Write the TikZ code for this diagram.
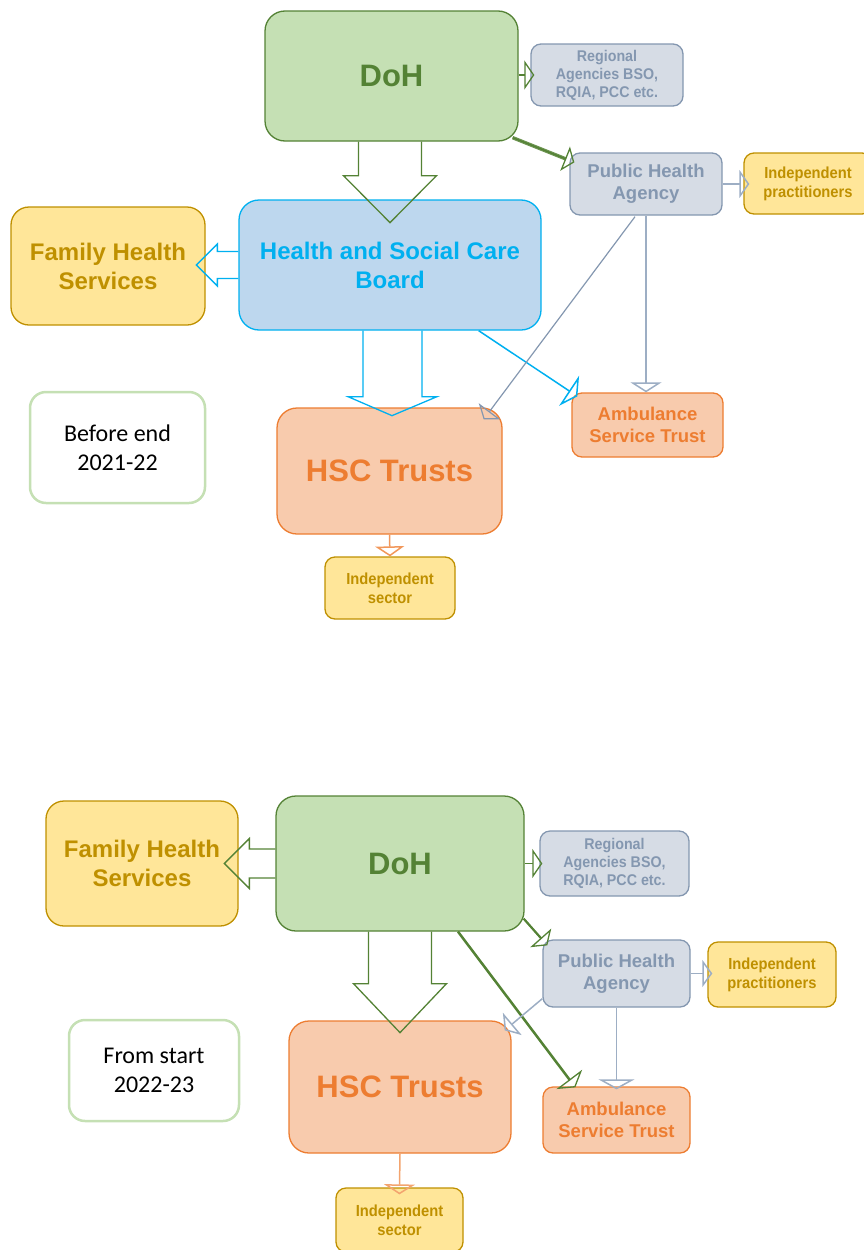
\documentclass[tikz,border=0pt]{standalone}
\usepackage{fontspec}
\setmainfont{Liberation Sans}
\newfontfamily\narrowfont[FakeStretch=0.92]{Liberation Sans}
\newfontfamily\calfont{Carlito}
\usetikzlibrary{arrows.meta,calc}
\definecolor{dgreen}{HTML}{548235}
\definecolor{lgreen}{HTML}{C5E0B4}
\definecolor{cyanb}{HTML}{00B0F0}
\definecolor{lblue}{HTML}{BDD7EE}
\definecolor{gold}{HTML}{BF9000}
\definecolor{lyellow}{HTML}{FFE699}
\definecolor{orng}{HTML}{ED7D31}
\definecolor{lorng}{HTML}{F8CBAD}
\definecolor{gblue}{HTML}{8497B0}
\definecolor{lgray}{HTML}{D6DCE5}
\definecolor{gline}{HTML}{9DAEC4}
\tikzset{
  basebox/.style={inner sep=0pt, align=center, line width=1.3pt},
  bigfont/.style={font=\bfseries\fontsize{31}{36}\selectfont},
  midfont/.style={font=\bfseries\fontsize{24}{29}\selectfont},
  smfont/.style={font=\bfseries\fontsize{18.5}{22.5}\selectfont},
  tinyfont/.style={font=\narrowfont\bfseries\fontsize{16}{19}\selectfont},
  regfont/.style={font=\narrowfont\bfseries\fontsize{15.5}{18}\selectfont},
  dohbox/.style={basebox, bigfont, fill=lgreen, draw=dgreen, text=dgreen, rounded corners=20pt},
  hscbbox/.style={basebox, midfont, fill=lblue, draw=cyanb, text=cyanb, rounded corners=20pt},
  fhsbox/.style={basebox, midfont, fill=lyellow, draw=gold, text=gold, rounded corners=18pt},
  hscbox/.style={basebox, bigfont, fill=lorng, draw=orng, text=orng, rounded corners=20pt},
  ambbox/.style={basebox, smfont, fill=lorng, draw=orng, text=orng, rounded corners=10pt},
  phabox/.style={basebox, smfont, fill=lgray, draw=gblue, text=gblue, rounded corners=10pt},
  regbox/.style={basebox, regfont, fill=lgray, draw=gblue, text=gblue, rounded corners=10pt},
  goldsmall/.style={basebox, tinyfont, fill=lyellow, draw=gold, text=gold, rounded corners=10pt},
  yearbox/.style={basebox, fill=white, draw=lgreen, line width=2.5pt, rounded corners=16pt, text=black,
     font=\calfont\fontsize{24}{29}\selectfont},
  tipA/.style={-{Triangle[open,width=#1,length=10pt]}},
  blockarrow/.style={line width=1.3pt, line join=miter},
}
\begin{document}
\begin{tikzpicture}[x=1pt,y=-1pt]
\useasboundingbox (0,0) rectangle (864,1250);
\clip (0,0) rectangle (864,1250);

% ---------------- top diagram ----------------
\node[dohbox, minimum width=253pt, minimum height=130pt] (doh1) at (391.5,76) {DoH};
\node[regbox, minimum width=152pt, minimum height=62pt] (reg1) at (607,75) {Regional\\Agencies BSO,\\RQIA, PCC etc.};
\node[phabox, minimum width=152pt, minimum height=62pt] (pha1) at (646,184) {Public Health\\Agency};
\node[goldsmall, minimum width=128pt, minimum height=61pt] (ip1) at (808,183.5) {Independent\\practitioners};
\node[hscbbox, minimum width=302pt, minimum height=130pt] (hscb) at (390,265) {Health and Social Care\\Board};
\node[fhsbox, minimum width=194pt, minimum height=118pt] (fhs1) at (108,266) {Family Health\\Services};
\node[hscbox, minimum width=225pt, minimum height=126pt] (hsc1) at (389.5,471) {HSC Trusts};
\node[ambbox, minimum width=151pt, minimum height=64pt] (amb1) at (647.5,425) {Ambulance\\Service Trust};
\node[goldsmall, minimum width=130pt, minimum height=62pt] (is1) at (390,588) {Independent\\sector};
\node[yearbox, minimum width=175pt, minimum height=111pt] (yr1) at (117.5,447.5) {Before end\\2021-22};

% block arrows (top)
\draw[blockarrow, dgreen, shift={(doh1.south)}]
  (-33,0) -- (-33,34) -- (-48,34) -- (-1.5,81) -- (45,34) -- (30,34) -- (30,0);
\draw[blockarrow, cyanb, shift={(hscb.south)}]
  (-27,0) -- (-27,66) -- (-42,66) -- (2,85) -- (47,66) -- (32,66) -- (32,0);
\draw[blockarrow, cyanb, shift={(hscb.west)}]
  (0,-13.5) -- (-21,-13.5) -- (-21,-21) -- (-42,0) -- (-21,21) -- (-21,13.5) -- (0,13.5);

% line connectors (top)
\draw[dgreen, line width=1.3pt, tipA=29pt] (reg1.west -| doh1.east) -- ($(reg1.west)+(4,0)$);
\draw[dgreen!85!white, line width=3.5pt, shorten >=9pt] ($(doh1.south east)+(-6,-4)$) -- ($(pha1.north west)+(5,10)$);
\draw[dgreen, line width=1.3pt, tipA=26pt] ($(doh1.south east)+(-6,-4)$) -- ($(pha1.north west)+(5,10)$);
\draw[cyanb, line width=1.5pt, tipA=36pt] ($(hscb.south east)+(-63,0)$) -- ($(amb1.north west)+(6,4)$);
\draw[gline, line width=1.5pt, tipA=28pt, shorten >=-6pt] (pha1.east) -- (pha1.east -| ip1.west);
\draw[gline, line width=1.5pt, tipA=31pt] (pha1.south) -- (pha1.south |- amb1.north);
\draw[gblue, line width=1.2pt, tipA=27pt] ($(pha1.south)+(-11,1)$) -- ($(hsc1.north east)+(-19,12)$);
\draw[orng!80!white, line width=1.5pt, tipA=29pt] (hsc1.south) -- (is1.north);

% ---------------- bottom diagram ----------------
\node[dohbox, minimum width=248pt, minimum height=135pt] (doh2) at (400,863.5) {DoH};
\node[regbox, minimum width=149pt, minimum height=65pt] (reg2) at (614.5,863.5) {Regional\\Agencies BSO,\\RQIA, PCC etc.};
\node[fhsbox, minimum width=192pt, minimum height=125pt] (fhs2) at (142,863.5) {Family Health\\Services};
\node[phabox, minimum width=147pt, minimum height=67pt] (pha2) at (616.5,973.5) {Public Health\\Agency};
\node[goldsmall, minimum width=128pt, minimum height=65pt] (ip2) at (772,974.5) {Independent\\practitioners};
\node[hscbox, minimum width=222pt, minimum height=132pt] (hsc2) at (400,1087) {HSC Trusts};
\node[ambbox, minimum width=147pt, minimum height=66pt] (amb2) at (616.5,1120) {Ambulance\\Service Trust};
\node[goldsmall, minimum width=127pt, minimum height=64pt] (is2) at (399.5,1220) {Independent\\sector};
\node[yearbox, minimum width=170pt, minimum height=101pt] (yr2) at (154,1070.5) {From start\\2022-23};

% block arrows (bottom)
\draw[blockarrow, dgreen, shift={(doh2.west)}]
  (0,-14.5) -- (-26,-14.5) -- (-26,-25) -- (-51,0) -- (-26,25) -- (-26,14.5) -- (0,14.5);
\draw[blockarrow, dgreen, shift={(doh2.south)}]
  (-31.5,0) -- (-31.5,52) -- (-46.5,52) -- (0,101) -- (46.5,52) -- (31.5,52) -- (31.5,0);

% line connectors (bottom)
\draw[dgreen, line width=1.3pt, tipA=29pt] (doh2.east) -- ($(reg2.west)+(3,0)$);
\draw[dgreen, line width=2.2pt, shorten >=9pt] ($(doh2.south east)+(-1,-13)$) -- ($(pha2.north west)+(5,6)$);
\draw[dgreen, line width=1.3pt, tipA=28pt] ($(doh2.south east)+(-1,-13)$) -- ($(pha2.north west)+(5,6)$);
\draw[dgreen, line width=2.5pt, shorten >=9pt] ($(doh2.south)+(58,0)$) -- ($(amb2.north west)+(33,1)$);
\draw[dgreen, line width=1.3pt, tipA=32pt] ($(doh2.south)+(58,0)$) -- ($(amb2.north west)+(33,1)$);
\draw[gline, line width=1.5pt, tipA=27pt, shorten >=-5pt] (pha2.east) -- (pha2.east -| ip2.west);
\draw[gline, line width=1.5pt, tipA=36pt, shorten >=-3pt] (pha2.south) -- (pha2.south |- amb2.north);
\draw[gline, line width=1.5pt, tipA=29pt] ($(pha2.south west)+(0,-9)$) -- ($(hsc2.north east)+(-7,10)$);
\draw[orng!70!white, line width=1.5pt, tipA=31pt, shorten >=-7pt] (hsc2.south) -- (is2.north);
\end{tikzpicture}
\end{document}
